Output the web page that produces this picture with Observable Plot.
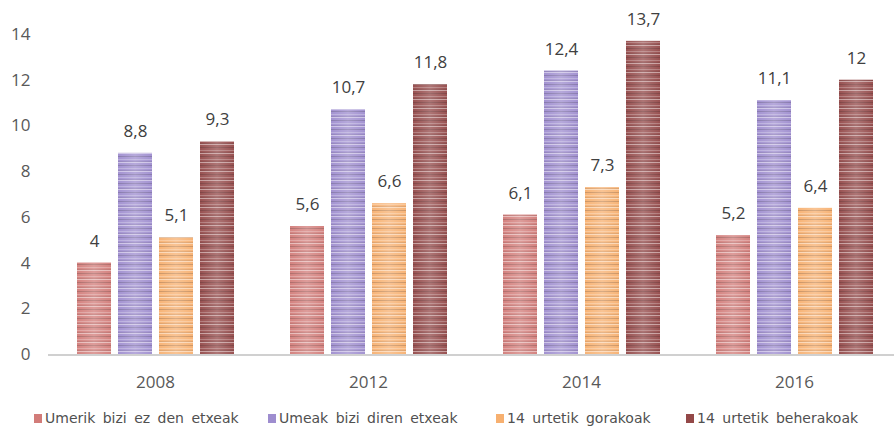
<!DOCTYPE html>
<html><head><meta charset="utf-8">
<script src="https://cdn.jsdelivr.net/npm/d3@7"></script>
<script src="https://cdn.jsdelivr.net/npm/@observablehq/plot@0.6"></script>
<style>
body{margin:0;background:#fff;}
#chart svg{display:block;}
#legend{position:relative;width:894px;height:32px;font-family:"DejaVu Sans",sans-serif;font-size:14px;color:#505050;}
.item{position:absolute;top:13px;line-height:20px;white-space:nowrap;word-spacing:3px;}
.sw{display:inline-block;width:8px;height:9px;margin-right:3px;vertical-align:0px;}
</style></head><body><div id="chart"></div><div id="legend"></div>
<script>
const years = ["2008", "2012", "2014", "2016"];
const series = ["Umerik bizi ez den etxeak", "Umeak bizi diren etxeak", "14 urtetik gorakoak", "14 urtetik beherakoak"];
const colors = ["#d27c79", "#9e8dcf", "#f7b070", "#934848"];
const umerikEz = [4, 5.6, 6.1, 5.2];
const umeakBizi = [8.8, 10.7, 12.4, 11.1];
const gorakoak = [5.1, 6.6, 7.3, 6.4];
const beherakoak = [9.3, 11.8, 13.7, 12];
const yTicks = [0, 2, 4, 6, 8, 10, 12, 14];
const legendLefts = [34, 268, 496, 686];

const valuesBySeries = [umerikEz, umeakBizi, gorakoak, beherakoak];
const data = [];
years.forEach((yr, i) => series.forEach((s, k) => data.push({year: yr, series: s, k, value: valuesBySeries[k][i]})));

const fmt = v => String(v).replace(".", ",");

const chart = Plot.plot({
  width: 894, height: 395,
  marginLeft: 47, marginRight: 0, marginTop: 34, marginBottom: 41,
  style: {fontFamily: "'Open Sans', sans-serif", fontSize: "17px", color: "#595959", background: "#fff"},
  fx: {domain: years, range: [47, 901], paddingInner: 0.26, paddingOuter: 0.13, label: null, tickSize: 0, tickPadding: 21},
  x: {domain: series, paddingInner: 0.174, paddingOuter: 0, axis: null},
  y: {domain: [0, 14], ticks: yTicks, tickSize: 0, tickPadding: 46, label: null},
  color: {type: "identity"},
  marks: [
    Plot.barY(data, {fx: "year", x: "series", y: "value", fill: d => `url(#pat${d.k})`}),
    Plot.barY(data, {fx: "year", x: "series", y: "value", fill: "url(#shine)"}),
    Plot.text(data, {fx: "year", x: "series", y: "value", text: d => fmt(d.value), dy: -22, fill: "#404040", fontSize: 17})
  ]
});

const svg = d3.select(chart);
const defs = svg.insert("defs", ":first-child");
colors.forEach((c, k) => {
  const p = defs.append("pattern").attr("id", `pat${k}`).attr("patternUnits", "userSpaceOnUse")
    .attr("width", 4).attr("height", 9);
  p.append("rect").attr("width", 4).attr("height", 9).attr("fill", c);
  p.append("rect").attr("y", 0).attr("width", 4).attr("height", 1).attr("fill", d3.interpolateRgb(c, "#fff")(0.45));
  p.append("rect").attr("y", 3).attr("width", 4).attr("height", 1).attr("fill", d3.interpolateRgb(c, "#000")(0.18));
  p.append("rect").attr("y", 6).attr("width", 4).attr("height", 1).attr("fill", d3.interpolateRgb(c, "#fff")(0.25));
  p.append("rect").attr("y", 8).attr("width", 4).attr("height", 1).attr("fill", d3.interpolateRgb(c, "#000")(0.1));
});
const g = defs.append("linearGradient").attr("id", "shine").attr("x1", 0).attr("x2", 1).attr("y1", 0).attr("y2", 0);
g.append("stop").attr("offset", 0).attr("stop-color", "#fff").attr("stop-opacity", 0.05);
g.append("stop").attr("offset", 0.5).attr("stop-color", "#fff").attr("stop-opacity", 0.25);
g.append("stop").attr("offset", 1).attr("stop-color", "#fff").attr("stop-opacity", 0.05);

const y0 = chart.scale("y").apply(0);
svg.append("line").attr("x1", 48).attr("x2", 894).attr("y1", y0 + 1).attr("y2", y0 + 1)
  .attr("stroke", "#d0d0d0").attr("stroke-width", 2);

document.getElementById("chart").append(chart);

const legend = d3.select("#legend");
series.forEach((s, k) => {
  const it = legend.append("div").attr("class", "item").style("left", legendLefts[k] + "px");
  it.append("span").attr("class", "sw").style("background", colors[k]);
  it.append("span").text(s);
});
</script></body></html>
